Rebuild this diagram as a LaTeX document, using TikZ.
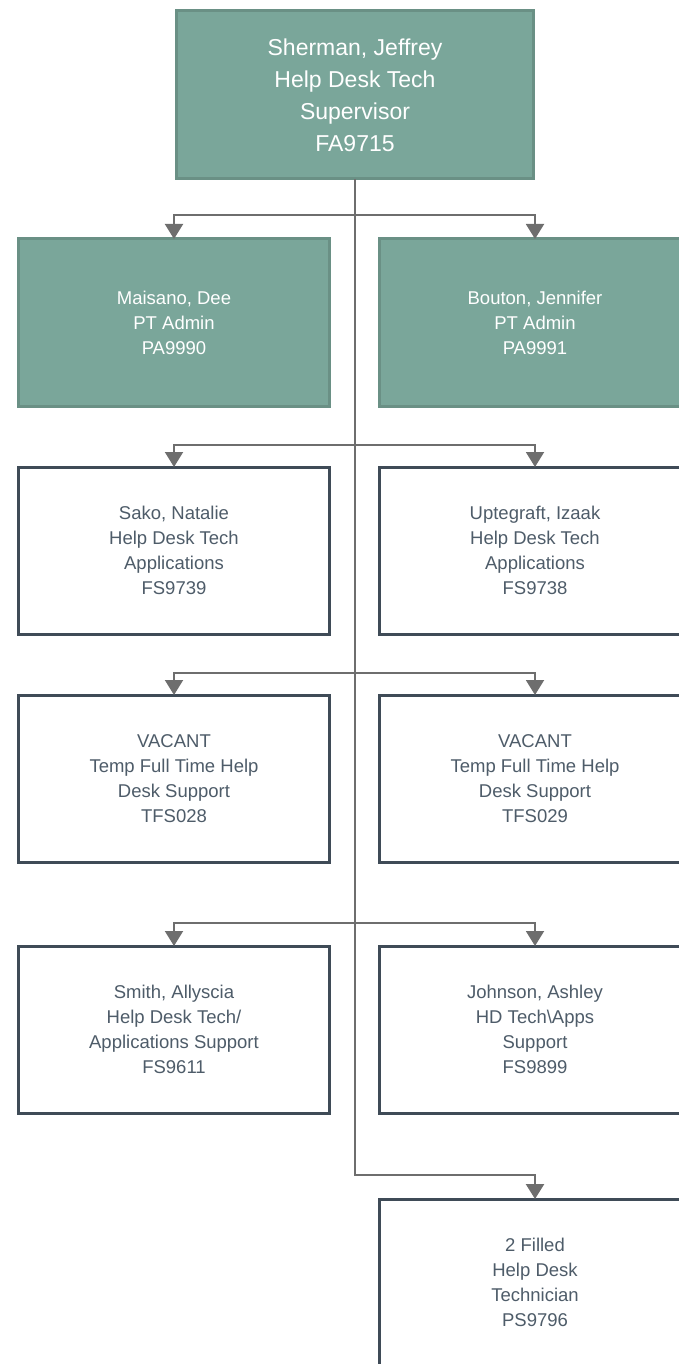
\documentclass[tikz,border=0pt]{standalone}
\usepackage{fontspec}
\setmainfont{Liberation Sans}
\usetikzlibrary{arrows.meta}

\definecolor{boxgreen}{HTML}{7AA69A}
\definecolor{edgegreen}{HTML}{6A9085}
\definecolor{slate}{HTML}{3F4B57}
\definecolor{slatetext}{HTML}{4E5C69}
\definecolor{linkgray}{HTML}{6E6E6E}

\tikzset{
  head/.style={draw=edgegreen, fill=boxgreen, line width=3pt, text=white,
    minimum width=357pt, minimum height=168pt, inner sep=0pt, outer sep=0pt,
    align=center, font=\fontsize{23}{32}\selectfont},
  admin/.style={draw=edgegreen, fill=boxgreen, line width=3pt, text=white,
    minimum width=311pt, minimum height=167pt, inner sep=0pt, outer sep=0pt,
    align=center, font=\fontsize{18.5}{25}\selectfont},
  staff/.style={admin, draw=slate, fill=white, text=slatetext},
  link/.style={draw=linkgray, line width=2pt,
    -{Triangle[width=18pt,length=15pt]}}
}

\begin{document}
\begin{tikzpicture}[x=1pt,y=-1pt]
    \useasboundingbox (0,0) rectangle (679,1364);
    \clip (0,0) rectangle (679,1364);

    % Supervisor
    \node[head] (sup) at (355,95) {Sherman, Jeffrey\\Help Desk Tech\\Supervisor\\FA9715};

    % Admins
    \node[admin] (adm1) at (174,322.5) {Maisano, Dee\\PT Admin\\PA9990};
    \node[admin] (adm2) at (535,322.5) {Bouton, Jennifer\\PT Admin\\PA9991};

    % Help desk techs
    \node[staff] (app1) at (174,550.5) {Sako, Natalie\\Help Desk Tech\\Applications\\FS9739};
    \node[staff] (app2) at (535,550.5) {Uptegraft, Izaak\\Help Desk Tech\\Applications\\FS9738};

    % Vacant positions
    \node[staff] (vac1) at (174,778.5) {VACANT\\Temp Full Time Help\\Desk Support\\TFS028};
    \node[staff] (vac2) at (535,778.5) {VACANT\\Temp Full Time Help\\Desk Support\\TFS029};

    % Apps support
    \node[staff] (sup1) at (174,1029.5) {Smith, Allyscia\\Help Desk Tech/\\Applications Support\\FS9611};
    \node[staff] (sup2) at (535,1029.5) {Johnson, Ashley\\HD Tech\textbackslash Apps\\Support\\FS9899};

    % Technicians
    \node[staff] (tech) at (535,1282.5) {2 Filled\\Help Desk\\Technician\\PS9796};

    % Junctions on the trunk
    \coordinate (j1) at (355,215);
    \coordinate (j2) at (355,445);
    \coordinate (j3) at (355,673);
    \coordinate (j4) at (355,923);
    \coordinate (j5) at (355,1175);

    % Trunk
    \draw[link, line width=2.5pt] (sup.south) -- (j5) -| (tech.north);

    % Branches
    \draw[link] (j1) -| (adm1.north);
    \draw[link] (j1) -| (adm2.north);
    \draw[link] (j2) -| (app1.north);
    \draw[link] (j2) -| (app2.north);
    \draw[link] (j3) -| (vac1.north);
    \draw[link] (j3) -| (vac2.north);
    \draw[link] (j4) -| (sup1.north);
    \draw[link] (j4) -| (sup2.north);
\end{tikzpicture}
\end{document}
